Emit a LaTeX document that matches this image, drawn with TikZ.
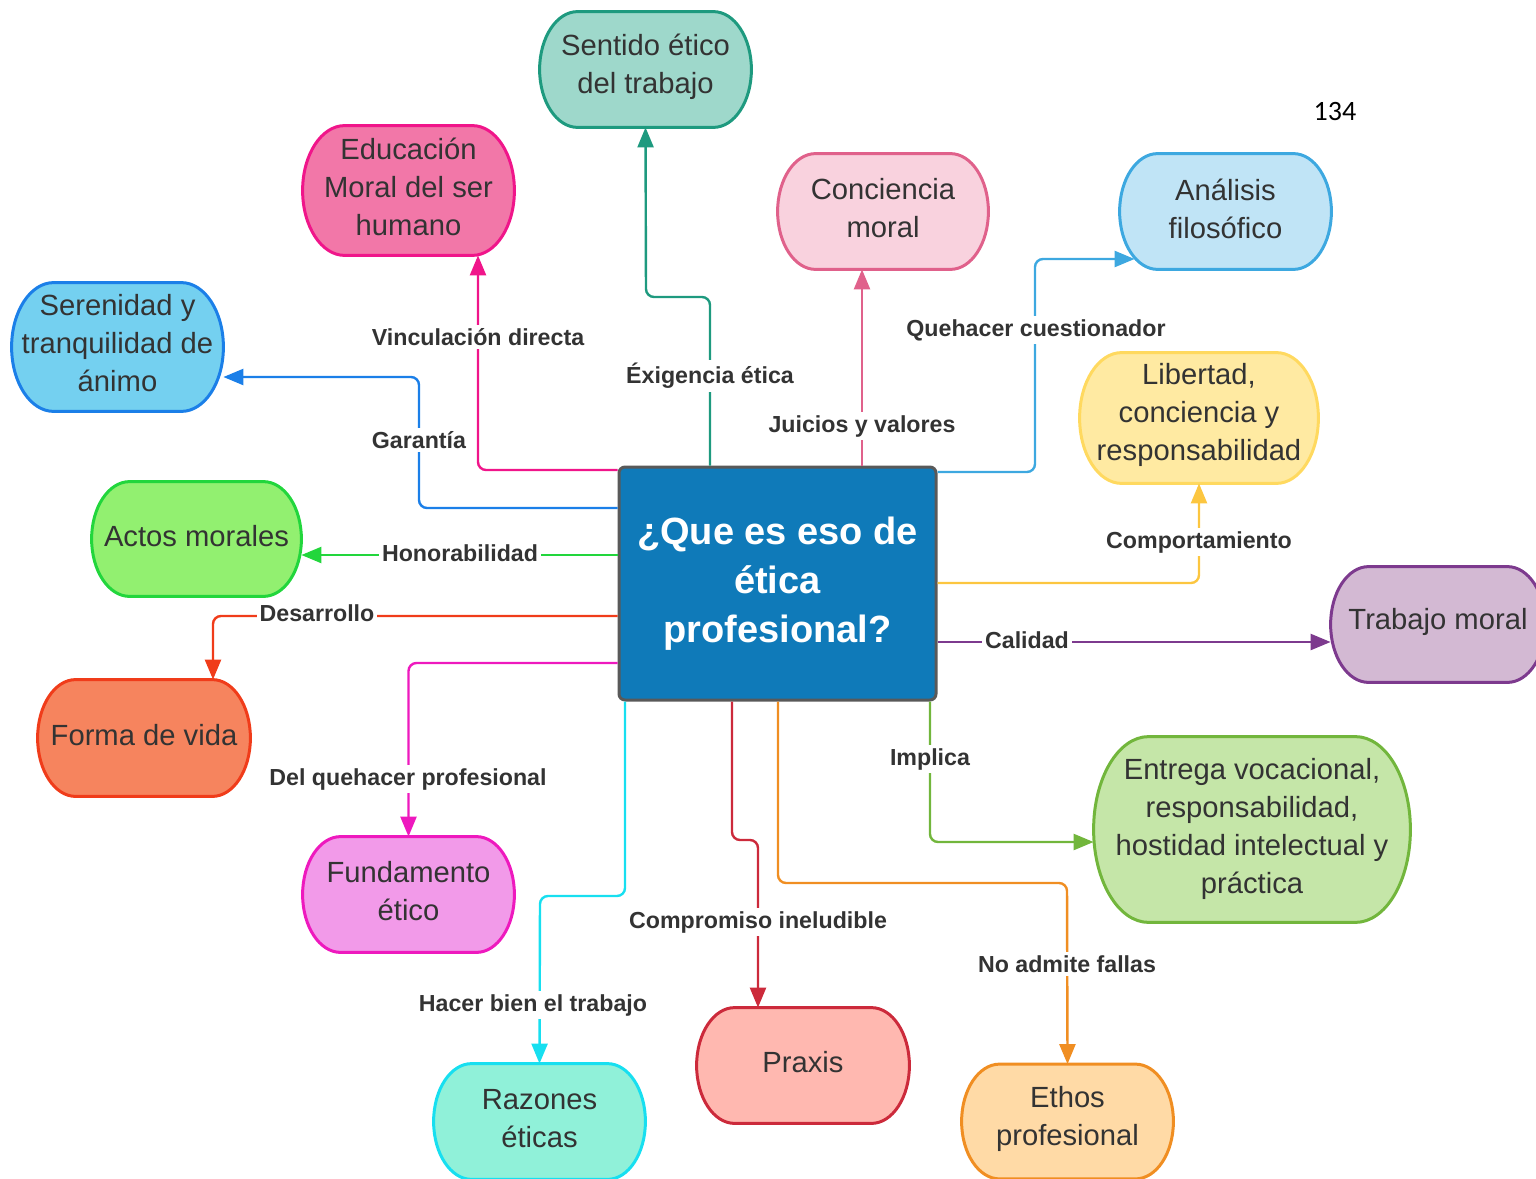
\documentclass[tikz,border=0pt]{standalone}
\usepackage{fontspec}
\setmainfont{Liberation Sans}
\newfontfamily\pagefont{Carlito}
\usetikzlibrary{arrows.meta,backgrounds,calc}
\definecolor{txt}{HTML}{333333}
\definecolor{cenF}{HTML}{0F7AB9}\definecolor{cenD}{HTML}{595959}
\definecolor{sentF}{HTML}{9ED8CB}\definecolor{sentD}{HTML}{1E9A7F}
\definecolor{eduF}{HTML}{F277A8}\definecolor{eduD}{HTML}{F0158A}
\definecolor{concF}{HTML}{F9D2DE}\definecolor{concD}{HTML}{E0618B}
\definecolor{analF}{HTML}{C0E4F6}\definecolor{analD}{HTML}{3DA8E0}
\definecolor{sereF}{HTML}{74D0F0}\definecolor{sereD}{HTML}{1B7FE8}
\definecolor{libF}{HTML}{FFEAA2}\definecolor{libD}{HTML}{FFD95F}\definecolor{libC}{HTML}{FCC640}
\definecolor{actF}{HTML}{92F070}\definecolor{actD}{HTML}{22D63C}
\definecolor{trabF}{HTML}{D3B9D3}\definecolor{trabD}{HTML}{7D3A8E}
\definecolor{formF}{HTML}{F6845E}\definecolor{formD}{HTML}{F03C1A}
\definecolor{entrF}{HTML}{C5E6A8}\definecolor{entrD}{HTML}{72B63C}
\definecolor{fundF}{HTML}{F29AE9}\definecolor{fundD}{HTML}{EE19BE}
\definecolor{razF}{HTML}{90F1D9}\definecolor{razD}{HTML}{17DFF0}
\definecolor{praxF}{HTML}{FFB8B0}\definecolor{praxD}{HTML}{CC2A3B}
\definecolor{ethF}{HTML}{FFDAA6}\definecolor{ethD}{HTML}{F08E22}
% pill outline with elliptical ends: node name, x radius (px), fill, draw
\newcommand{\pillshape}[4]{%
  \begin{scope}[on background layer]
    \path[fill=#3,draw=#4,line width=1.5pt]
      let \p1=(#1.north west), \p2=(#1.south east),
          \n1={0.5*(\y1-\y2)}, \n2={#2*0.5pt} in
      (\x1+\n2,\y1) -- (\x2-\n2,\y1)
      arc[start angle=90,end angle=-90,x radius=\n2,y radius=\n1]
      -- (\x1+\n2,\y2)
      arc[start angle=270,end angle=90,x radius=\n2,y radius=\n1]
      -- cycle;
  \end{scope}}
\begin{document}
\begin{tikzpicture}[x=0.5pt,y=-0.5pt,
  pn/.style={shape=rectangle,inner sep=0pt},
  pnt/.style={align=center,text=txt,inner sep=0pt,
    font=\fontsize{14.6}{19}\selectfont},
  central/.style={shape=rectangle,align=center,text=white,fill=cenF,draw=cenD,
    line width=1.5pt,rounded corners=3pt,inner sep=0pt,
    font=\bfseries\fontsize{19}{24.5}\selectfont,
    minimum width=158.5pt,minimum height=116.5pt},
  cn/.style={line width=1.2pt,rounded corners=4pt,-{Triangle[length=10pt,width=8pt]}},
  lbl/.style={font=\bfseries\fontsize{11.6}{13}\selectfont,text=txt,fill=white,inner sep=1.5pt}]
\useasboundingbox (0,0) rectangle (1536,1178);

% central
\node[central] (c) at (777.5,583.5) {¿Que es eso de\\ética\\profesional?};

% concept node shapes
\node[pn,minimum width=105.5pt,minimum height=57.5pt] (sent) at (645.5,69.5) {};
\node[pn,minimum width=105.5pt,minimum height=64.5pt] (edu) at (408.5,190.5) {};
\node[pn,minimum width=105pt,minimum height=57.5pt] (conc) at (883,211.5) {};
\node[pn,minimum width=105.5pt,minimum height=57.5pt] (anal) at (1225.5,211.5) {};
\node[pn,minimum width=105.5pt,minimum height=64pt] (sere) at (117.5,347) {};
\node[pn,minimum width=119pt,minimum height=65pt] (lib) at (1199,418) {};
\node[pn,minimum width=104.5pt,minimum height=57pt] (actos) at (196.5,539) {};
\node[pn,minimum width=107pt,minimum height=57.5pt] (trab) at (1438,624.5) {};
\node[pn,minimum width=106pt,minimum height=58pt] (forma) at (144,738) {};
\node[pn,minimum width=158pt,minimum height=92.5pt] (entr) at (1252,829.5) {};
\node[pn,minimum width=105.5pt,minimum height=57.5pt] (fund) at (408.5,894.5) {};
\node[pn,minimum width=105.5pt,minimum height=57.5pt] (raz) at (539.5,1121.5) {};
\node[pn,minimum width=106pt,minimum height=57.5pt] (prax) at (803,1065.5) {};
\node[pn,minimum width=105.5pt,minimum height=57pt] (ethos) at (1067.5,1121.5) {};

% concept texts
\node[pnt] (sentt) at ($(sent.center)+(0,-3)$) {Sentido ético\\del trabajo};
\node[pnt] (edut) at ($(edu.center)+(0,-4)$) {Educación\\Moral del ser\\humano};
\node[pnt] (conct) at ($(conc.center)+(0,-3)$) {Conciencia\\moral};
\node[pnt] (analt) at ($(anal.center)+(0,-3)$) {Análisis\\filosófico};
\node[pnt] (seret) at ($(sere.center)+(0,-4)$) {Serenidad y\\tranquilidad de\\ánimo};
\node[pnt] (libt) at ($(lib.center)+(0,-3)$) {Libertad,\\conciencia y\\responsabilidad};
\node[pnt] (actost) at ($(actos.center)+(0,-3)$) {Actos morales};
\node[pnt] (trabt) at ($(trab.center)+(0,-3)$) {Trabajo moral};
\node[pnt] (format) at ($(forma.center)+(0,-3)$) {Forma de vida};
\node[pnt] (entrt) at ($(entr.center)+(0,-1)$) {Entrega vocacional,\\responsabilidad,\\hostidad intelectual y\\práctica};
\node[pnt] (fundt) at ($(fund.center)+(0,-3)$) {Fundamento\\ético};
\node[pnt] (razt) at ($(raz.center)+(0,-3)$) {Razones\\éticas};
\node[pnt] (praxt) at ($(prax.center)+(0,-3)$) {Praxis};
\node[pnt] (ethost) at ($(ethos.center)+(0,-3)$) {Ethos\\profesional};

\pillshape{sent}{38}{sentF}{sentD}
\pillshape{edu}{42}{eduF}{eduD}
\pillshape{conc}{38}{concF}{concD}
\pillshape{anal}{38}{analF}{analD}
\pillshape{sere}{42}{sereF}{sereD}
\pillshape{lib}{42}{libF}{libD}
\pillshape{actos}{38}{actF}{actD}
\pillshape{trab}{38}{trabF}{trabD}
\pillshape{forma}{38}{formF}{formD}
\pillshape{entr}{55}{entrF}{entrD}
\pillshape{fund}{38}{fundF}{fundD}
\pillshape{raz}{38}{razF}{razD}
\pillshape{prax}{38}{praxF}{praxD}
\pillshape{ethos}{38}{ethF}{ethD}

% connectors
\draw[cn,sentD] (c.north -| 710,0) |- (646,297) -- (sent.south);
\draw[cn,eduD] (c.west |- 0,470) -| (edu.south -| 478,0);
\draw[cn,sereD] (c.west |- 0,508) -| (419,377) -- (sere.east |- 0,377);
\draw[cn,actD] (c.west |- 0,555) -- (actos.east |- 0,555);
\draw[cn,formD] (c.west |- 0,616) -| (forma.north -| 213,0);
\draw[cn,fundD] (c.west |- 0,663) -| (fund.north);
\draw[cn,razD] (c.south -| 625,0) |- (540,896) -- (raz.north);
\draw[cn,praxD] (c.south -| 732,0) |- (758,840) -- (prax.north -| 758,0);
\draw[cn,ethD] (c.south -| 778,0) |- (1067,883) -- (ethos.north);
\draw[cn,entrD] (c.south -| 930,0) |- (entr.west |- 0,842);
\draw[cn,trabD] (c.east |- 0,642) -- (trab.west |- 0,642);
\draw[cn,libC] (c.east |- 0,583) -| (lib.south);
\draw[cn,analD] (c.east |- 0,472) -| (1035,259) -- ($(anal.west |- 0,259)+(15,0)$);
\draw[cn,concD] (c.north -| 862,0) -- (conc.south -| 862,0);

% labels
\node[lbl] (l1) at (710,376) {Éxigencia ética};
\node[lbl] (l2) at (478,337) {Vinculación directa};
\node[lbl] (l3) at (419,440) {Garantía};
\node[lbl] (l4) at (460,553) {Honorabilidad};
\node[lbl] (l5) at (317,613) {Desarrollo};
\node[lbl] (l6) at (408,779) {Del quehacer profesional};
\node[lbl] (l7) at (533,1005) {Hacer bien el trabajo};
\node[lbl] (l8) at (758,922) {Compromiso ineludible};
\node[lbl] (l9) at (1067,964) {No admite fallas};
\node[lbl] (l10) at (930,759) {Implica};
\node[lbl] (l11) at (1027,640) {Calidad};
\node[lbl] (l12) at (1199,542) {Comportamiento};
\node[lbl] (l13) at (1036,330) {Quehacer cuestionador};
\node[lbl] (l14) at (862,426) {Juicios y valores};

% page number
\node[font=\pagefont\fontsize{14}{16}\selectfont,text=black,inner sep=0pt] (pg) at (1335,112) {134};
\end{tikzpicture}
\end{document}
